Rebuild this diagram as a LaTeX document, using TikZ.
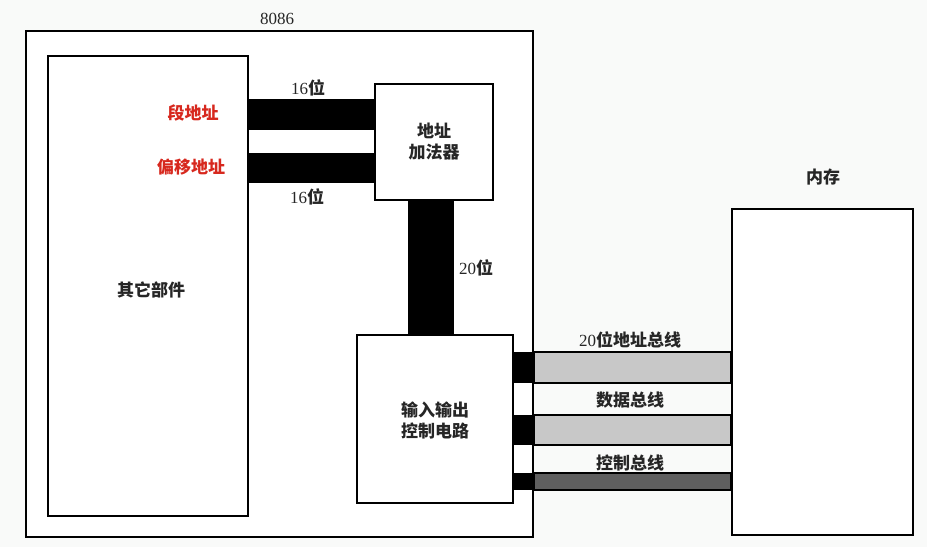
\documentclass[tikz,border=0pt]{standalone}
\usepackage{fontspec}
\setmainfont{Liberation Serif}
\newfontfamily\cjk{Noto Sans CJK SC}
\begin{document}
\begin{tikzpicture}[x=1pt,y=-1pt,
  box/.style={draw=black,line width=1.9pt,fill=white,rectangle,inner sep=0pt},
  lbl/.style={font=\fontsize{17}{21}\selectfont\cjk\bfseries,text=black!85,align=center,inner sep=0pt},
  redlbl/.style={lbl,text={rgb,255:red,215;green,40;blue,30}},
  bar/.style={fill=black},
  bus/.style={draw=black,line width=1.6pt}]
\definecolor{bg}{RGB}{249,250,249}
\definecolor{lgrey}{RGB}{200,200,200}
\definecolor{dgrey}{RGB}{95,95,95}
\useasboundingbox (0,0) rectangle (927,547);
\fill[bg] (0,0) rectangle (927,547);
% boxes
\node[box,minimum width=507pt,minimum height=506pt] (outer) at (279.5,284) {};
\node[lbl] (t8086) at (277,19) {\rmfamily\mdseries 8086};
\node[box,minimum width=200pt,minimum height=460pt] (other) at (148,286) {};
\node[lbl] (otherlbl) at (151,290) {其它部件};
\node[box,minimum width=118pt,minimum height=116pt] (adder) at (434,142) {};
\node[lbl] (adderlbl) at (434,142) {地址\\加法器};
\node[box,minimum width=156pt,minimum height=168pt] (io) at (435,419) {};
\node[lbl] (iolbl) at (435,420) {输入输出\\控制电路};
\node[box,minimum width=181pt,minimum height=326pt] (mem) at (822.5,372) {};
\node[lbl] (memlbl) at (823,177) {内存};
% address bars
\fill[bar] (other.east |- 0,99) rectangle (adder.west |- 0,130);
\fill[bar] (other.east |- 0,153) rectangle (adder.west |- 0,183);
\fill[bar] (adder.south -| 408,0) rectangle (io.north -| 454,0);
\node[redlbl] (seg) at (193,113) {段地址};
\node[redlbl] (off) at (191,167) {偏移地址};
\node[lbl] (b16a) at (308,88) {{\rmfamily\mdseries 16}位};
\node[lbl] (b16b) at (307,197) {{\rmfamily\mdseries 16}位};
\node[lbl] (b20) at (476,268) {{\rmfamily\mdseries 20}位};
% buses
\fill[bar] (io.east |- 0,352) rectangle (outer.east |- 0,383);
\fill[bar] (io.east |- 0,415) rectangle (outer.east |- 0,445);
\fill[bar] (io.east |- 0,473) rectangle (outer.east |- 0,490);
\filldraw[bus,fill=lgrey] (outer.east |- 0,352) rectangle (mem.west |- 0,383);
\filldraw[bus,fill=lgrey] (outer.east |- 0,415) rectangle (mem.west |- 0,445);
\filldraw[bus,fill=dgrey] (outer.east |- 0,473) rectangle (mem.west |- 0,490);
\node[lbl] (abus) at (630,340) {{\rmfamily\mdseries 20}位地址总线};
\node[lbl] (dbus) at (630,400) {数据总线};
\node[lbl] (cbus) at (630,463) {控制总线};
\end{tikzpicture}
\end{document}
